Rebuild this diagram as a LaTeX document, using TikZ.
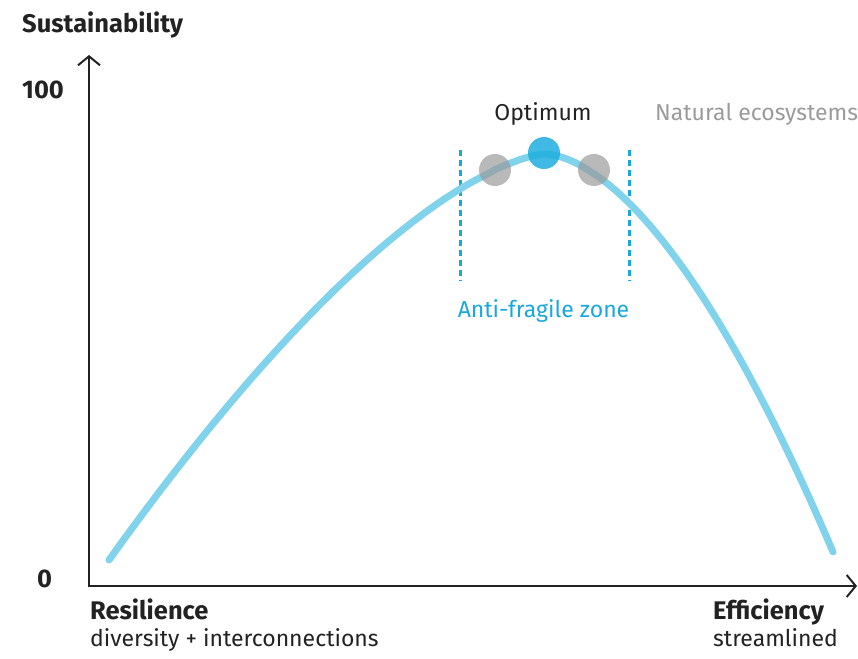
\documentclass[tikz,border=0pt]{standalone}
\usepackage{fontspec}
\setmainfont{Fira Sans}
\usetikzlibrary{arrows.meta}

\definecolor{curveblue}{HTML}{80D3EA}
\definecolor{zoneblue}{HTML}{1AA8DC}
\definecolor{optblue}{HTML}{1FAEDF}
\definecolor{ink}{HTML}{222222}
\definecolor{softgrey}{HTML}{9B9B9B}

\tikzset{
  axis/.style={line width=2pt, ink, {Straight Barb[length=9pt,width=22pt]}-{Straight Barb[length=9pt,width=22pt]}},
  boldlabel/.style={font=\bfseries\fontsize{25.5}{28}\selectfont, text=ink, inner sep=0pt, anchor=base west},
  thinlabel/.style={font=\fontsize{23}{26}\selectfont, text=ink, inner sep=0pt, anchor=base west},
  zoneline/.style={zoneblue, line width=3pt, dash pattern=on 6pt off 4pt},
  curve/.style={curveblue, line width=7pt, line cap=round},
  dot/.style={circle, minimum size=32pt, inner sep=0pt},
}

\begin{document}
\begin{tikzpicture}[x=1pt, y=-1pt]
    \useasboundingbox (0,0) rectangle (858,658);

    \coordinate (ytip) at (89,55);
    \coordinate (origin) at (89,586);
    \coordinate (xtip) at (857,586);
    \draw[axis] (ytip) -- (origin) -- (xtip);

    \node[boldlabel] (ytitle) at (22,33) {Sustainability};
    \node[boldlabel] (ymax) at (22,99) {100};
    \node[boldlabel] (ymin) at (37,587) {0};
    \node[boldlabel] (resil) at (90,619) {Resilience};
    \node[thinlabel] (resilsub) at (90,646) {diversity + interconnections};
    \node[boldlabel] (effic) at (713,619) {Efficiency};
    \node[thinlabel] (efficsub) at (713,646) {streamlined};

    % anti-fragile band
    \coordinate (zoneltop) at (460,150);
    \coordinate (zonelbot) at (460,281);
    \coordinate (zonertop) at (629,150);
    \coordinate (zonerbot) at (629,281);
    \draw[zoneline] (zoneltop) -- (zonelbot);
    \draw[zoneline] (zonertop) -- (zonerbot);
    \node[thinlabel, text=zoneblue, anchor=base] (zone) at (543.5,317) {Anti-fragile zone};

    % sustainability curve: slow rise on the left, steeper drop on the right
    \draw[curve] plot[domain=109:545, samples=70] (\x, {154+406*((545-\x)/436)^1.5})
        -- plot[domain=545:833, samples=50] (\x, {154+398*((\x-545)/288)^1.7});

    \node[dot, fill=softgrey, fill opacity=0.7] (leftpt) at (495,170) {};
    \node[dot, fill=softgrey, fill opacity=0.7] (rightpt) at (594,170) {};
    \node[dot, fill=optblue, fill opacity=0.85] (optpt) at (544,153) {};

    \node[thinlabel, anchor=base] (opt) at (543,121) {Optimum};
    \node[thinlabel, text=softgrey] (natural) at (655,121) {Natural ecosystems};
\end{tikzpicture}
\end{document}
